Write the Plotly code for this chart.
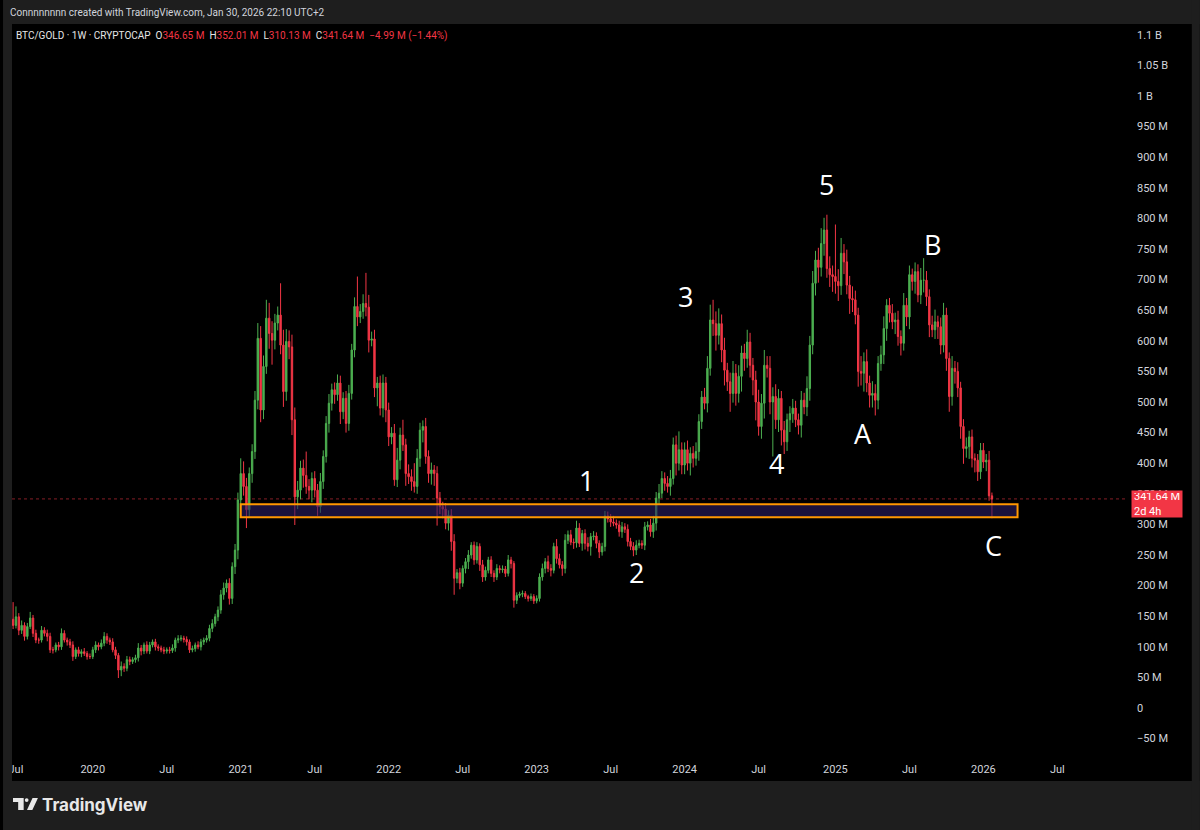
import pandas as pd
import plotly.graph_objects as go

# ---------------- data (weekly candles, values in millions) ----------------
start_week = "2019-06-10"
first_open = 152

close_2019 = [150, 145, 135, 149, 127, 135, 117, 133, 147, 122, 111, 111, 127, 122, 117, 95, 95, 103, 100, 122,
              111, 108, 103, 84, 95, 89, 92, 89, 84, 84]
close_2020 = [95, 103, 100, 106, 117, 111, 108, 95, 86, 62, 68, 65, 79, 76, 79, 82, 98, 93, 103, 93,
              103, 108, 100, 98, 95, 93, 95, 94, 98, 111, 113, 114, 112, 108, 95, 97, 103, 100, 108, 111,
              114, 130, 138, 149, 160, 185, 196, 204, 179, 231, 258, 340]
close_2021 = [383, 362, 324, 383, 419, 503, 604, 487, 558, 637, 612, 601, 629, 642, 593, 517, 599, 590, 471, 345,
              356, 392, 380, 362, 356, 375, 356, 329, 370, 411, 465, 498, 520, 512, 531, 484, 506, 465, 514, 585,
              656, 639, 648, 661, 655, 601, 603, 523, 531, 490, 531, 487]
close_2022 = [443, 449, 373, 405, 446, 430, 383, 378, 370, 362, 408, 454, 460, 411, 383, 389, 383, 343, 329, 325,
              302, 315, 272, 212, 221, 204, 228, 239, 250, 266, 242, 264, 234, 214, 225, 242, 220, 214, 228, 226,
              227, 220, 242, 236, 176, 184, 186, 187, 182, 179, 182, 175]
close_2023 = [179, 214, 228, 239, 228, 225, 264, 244, 234, 228, 274, 283, 271, 270, 294, 269, 285, 269, 264, 280,
              281, 269, 255, 264, 314, 309, 304, 302, 299, 288, 296, 292, 272, 264, 258, 266, 269, 266, 296, 299,
              288, 302, 343, 351, 375, 367, 362, 375, 430, 400, 422, 397]
close_2024 = [422, 400, 416, 408, 419, 468, 508, 498, 555, 634, 628, 609, 628, 585, 552, 533, 514, 547, 514, 542,
              580, 571, 598, 560, 536, 500, 460, 498, 560, 555, 500, 509, 471, 506, 454, 435, 471, 481, 490, 471,
              462, 503, 492, 522, 593, 694, 732, 720, 759, 781, 718, 708, 705]
close_2025 = [697, 690, 743, 729, 691, 669, 667, 642, 550, 547, 566, 531, 511, 514, 503, 563, 577, 620, 658, 645,
              631, 634, 607, 596, 658, 639, 708, 697, 713, 675, 699, 699, 672, 626, 618, 631, 623, 593, 642, 571,
              509, 555, 550, 523, 460, 424, 427, 443, 408, 405, 386, 421]
close_2026 = [402, 405, 346.65, 341.64]

# wick lengths above the body top / below the body bottom (millions)
hi_2019 = [6, 8, 28, 17, 6, 8, 5, 6, 10, 5, 6, 4, 7, 5, 6, 6, 5, 4, 5, 8, 5, 4, 5, 6, 4, 5, 4, 6, 4, 5]
lo_2019 = [5, 6, 6, 5, 8, 6, 7, 5, 4, 6, 5, 6, 4, 5, 8, 5, 6, 4, 6, 5, 4, 6, 5, 7, 4, 5, 6, 4, 5, 4]
hi_2020 = [5, 6, 4, 6, 7, 5, 4, 6, 5, 4, 8, 5, 6, 5, 4, 5, 8, 5, 4, 6, 5, 4, 5, 4, 4, 5, 4, 5, 6, 4,
           6, 5, 4, 5, 4, 5, 4, 6, 5, 4, 5, 6, 7, 5, 6, 8, 9, 6, 8, 7, 10, 12]
lo_2020 = [4, 5, 6, 4, 5, 6, 5, 4, 6, 13, 10, 6, 5, 6, 4, 5, 6, 7, 5, 4, 5, 4, 6, 5, 4, 5, 4, 5, 4, 6,
           5, 4, 5, 6, 5, 4, 5, 4, 6, 5, 4, 5, 6, 5, 7, 6, 8, 7, 10, 9, 12, 15]
hi_2021 = [25, 20, 14, 10, 12, 15, 25, 20, 18, 30, 25, 20, 15, 14, 52, 25, 20, 18, 20, 20, 15, 12, 14, 39, 12,
           10, 12, 10, 14, 10, 12, 15, 10, 12, 14, 12, 10, 12, 14, 10, 15, 49, 12, 15, 50, 20, 12, 15, 10, 12, 14, 10]
lo_2021 = [10, 15, 30, 12, 15, 12, 15, 20, 15, 12, 25, 40, 15, 12, 15, 25, 15, 20, 25, 46, 20, 15, 20, 12, 15,
           20, 12, 15, 10, 12, 10, 15, 12, 15, 10, 20, 12, 15, 12, 10, 12, 15, 10, 12, 15, 20, 10, 15, 30, 12, 15, 20]
hi_2022 = [12, 10, 15, 20, 12, 25, 10, 15, 12, 30, 15, 12, 10, 14, 10, 12, 8, 12, 10, 8, 10, 8, 10, 12, 6,
           8, 5, 6, 8, 5, 6, 7, 5, 8, 6, 5, 6, 5, 7, 5, 6, 5, 8, 5, 4, 5, 4, 5, 4, 3, 5, 4]
lo_2022 = [15, 12, 10, 12, 15, 10, 20, 12, 15, 10, 12, 14, 20, 12, 15, 18, 20, 45, 12, 15, 10, 12, 15, 27, 8,
           10, 6, 8, 12, 6, 8, 6, 10, 8, 6, 5, 6, 8, 5, 6, 5, 6, 5, 8, 12, 6, 4, 5, 4, 5, 4, 5]
hi_2023 = [5, 6, 8, 6, 10, 7, 6, 12, 8, 6, 10, 7, 8, 6, 12, 8, 6, 7, 10, 6, 8, 6, 5, 6, 8,
           7, 8, 10, 6, 7, 8, 6, 8, 6, 7, 8, 6, 5, 8, 6, 10, 12, 10, 15, 12, 10, 12, 14, 12, 15, 30, 12]
lo_2023 = [4, 5, 6, 8, 6, 10, 5, 8, 6, 12, 8, 6, 5, 10, 8, 6, 12, 10, 8, 15, 6, 8, 10, 6, 8,
           6, 8, 5, 6, 8, 10, 6, 8, 6, 10, 8, 5, 6, 8, 6, 8, 10, 12, 10, 8, 12, 10, 15, 10, 20, 12, 15]
hi_2024 = [12, 15, 10, 12, 15, 12, 10, 15, 20, 25, 33, 20, 25, 15, 20, 12, 15, 20, 15, 18, 12, 15, 20, 15, 12,
           15, 20, 15, 25, 15, 20, 15, 20, 15, 12, 15, 10, 12, 15, 12, 10, 15, 12, 20, 15, 20, 15, 20, 25, 20,
           25, 20, 15]
lo_2024 = [15, 12, 20, 15, 12, 15, 12, 10, 15, 12, 20, 25, 15, 20, 25, 15, 30, 15, 20, 15, 25, 20, 15, 20, 25,
           30, 15, 20, 25, 15, 20, 89, 15, 20, 25, 20, 15, 20, 15, 12, 15, 20, 12, 15, 20, 15, 20, 25, 15, 20,
           15, 20, 25]
hi_2025 = [85, 20, 25, 15, 20, 15, 20, 15, 12, 25, 15, 20, 12, 20, 15, 12, 15, 20, 10, 12, 15, 12, 15, 10, 20,
           12, 15, 10, 15, 12, 20, 36, 15, 12, 15, 20, 10, 15, 20, 12, 10, 20, 12, 15, 10, 12, 15, 10, 12, 8, 10, 12]
lo_2025 = [20, 25, 15, 20, 15, 25, 20, 15, 25, 20, 30, 15, 20, 20, 25, 15, 12, 15, 20, 15, 12, 20, 15, 20, 12,
           15, 20, 15, 20, 12, 15, 20, 15, 20, 12, 15, 20, 15, 12, 20, 25, 15, 20, 15, 20, 25, 15, 20, 15, 20, 15, 12]
hi_2026 = [12, 10, 15, 5.37]
lo_2026 = [10, 15, 8, 31.51]

# support zone and wave labels
zone_start, zone_end = "2021-01-04", "2026-03-30"
zone_low, zone_high = 311.5, 333.0
last_price = 341.64

wave_text = ["1", "2", "3", "4", "5", "A", "B", "C"]
wave_dates = ["2023-05-04", "2023-09-04", "2024-01-02", "2024-08-15",
              "2024-12-16", "2025-03-14", "2025-09-02", "2026-01-29"]
wave_values = [371, 221, 672, 399, 856, 449, 758, 265]

y_tick_vals = [-50, 0, 50, 100, 150, 200, 250, 300, 350, 400, 450, 500, 550, 600,
               650, 700, 750, 800, 850, 900, 950, 1000, 1050, 1100]
y_tick_text = ["\u221250 M", "0", "50 M", "100 M", "150 M", "200 M", "250 M", "300 M", "350 M", "400 M",
               "450 M", "500 M", "550 M", "600 M", "650 M", "700 M", "750 M", "800 M", "850 M", "900 M",
               "950 M", "1 B", "1.05 B", "1.1 B"]
x_tick_dates = ["2019-07-01", "2020-01-06", "2020-07-06", "2021-01-04", "2021-07-05", "2022-01-03",
                "2022-07-04", "2023-01-02", "2023-07-03", "2024-01-01", "2024-07-01", "2025-01-06",
                "2025-07-07", "2026-01-05", "2026-07-06"]
x_tick_text = ["Jul", "2020", "Jul", "2021", "Jul", "2022", "Jul", "2023", "Jul", "2024", "Jul", "2025",
               "Jul", "2026", "Jul"]

# ---------------- build OHLC ----------------
closes = close_2019 + close_2020 + close_2021 + close_2022 + close_2023 + close_2024 + close_2025 + close_2026
hi_w = hi_2019 + hi_2020 + hi_2021 + hi_2022 + hi_2023 + hi_2024 + hi_2025 + hi_2026
lo_w = lo_2019 + lo_2020 + lo_2021 + lo_2022 + lo_2023 + lo_2024 + lo_2025 + lo_2026
n = min(len(closes), len(hi_w), len(lo_w))
closes, hi_w, lo_w = closes[:n], hi_w[:n], lo_w[:n]
opens = [first_open] + closes[:-1]
highs = [max(o, c) + w for o, c, w in zip(opens, closes, hi_w)]
lows = [min(o, c) - w for o, c, w in zip(opens, closes, lo_w)]
dates = pd.date_range(start_week, periods=n, freq="7D")

# ---------------- geometry ----------------
W, H = 1200, 830
PL, PR, PT, PB = 9, 1128, 24, 757


def px(x):
    return (x - PL) / (PR - PL)


def py(y):
    return (PB - y) / (PB - PT)


t0, t1 = pd.Timestamp("2020-01-06"), pd.Timestamp("2026-01-05")
per_px = (t1 - t0) / (983 - 90)
x_range = [t0 + (PL - 90) * per_px, t0 + (PR - 90) * per_px]
y_range = [(708 - PB) / 0.612, (708 - PT) / 0.612]

UP, DOWN = "#4caf50", "#f23645"
TXT = "#d1d4dc"
FRAME = "#1e1e1e"
FONT = "Roboto, Liberation Sans, sans-serif"

fig = go.Figure(go.Candlestick(
    x=dates, open=opens, high=highs, low=lows, close=closes,
    increasing=dict(line=dict(color=UP, width=1), fillcolor=UP),
    decreasing=dict(line=dict(color=DOWN, width=1), fillcolor=DOWN),
    whiskerwidth=0, hoverinfo="skip"))

shapes = [
    # last price line
    dict(type="line", xref="paper", yref="y", x0=0, x1=1, y0=last_price, y1=last_price,
         line=dict(color="rgba(242,54,69,0.55)", width=1, dash="dot"), layer="below"),
    # support zone
    dict(type="rect", xref="x", yref="y", x0=zone_start, x1=zone_end, y0=zone_low, y1=zone_high,
         fillcolor="rgba(44,30,100,0.6)", line=dict(color="#ff9800", width=2), layer="above"),
    # frame: top bar, footer, left and right strips
    dict(type="rect", xref="paper", yref="paper", x0=px(0), x1=px(W), y0=py(PT), y1=py(0),
         fillcolor=FRAME, line=dict(width=0), layer="above"),
    dict(type="rect", xref="paper", yref="paper", x0=px(0), x1=px(W), y0=py(H), y1=py(781),
         fillcolor=FRAME, line=dict(width=0), layer="above"),
    dict(type="rect", xref="paper", yref="paper", x0=px(0), x1=px(PL), y0=py(H), y1=py(0),
         fillcolor=FRAME, line=dict(width=0), layer="above"),
    dict(type="rect", xref="paper", yref="paper", x0=px(1192), x1=px(W), y0=py(H), y1=py(0),
         fillcolor=FRAME, line=dict(width=0), layer="above"),
    # TradingView logo pieces
    dict(type="path", xref="paper", yref="paper",
         path=f"M {px(10)},{py(798)} L {px(20.7)},{py(798)} L {px(20.7)},{py(810)} L {px(15.2)},{py(810)} "
              f"L {px(15.2)},{py(802)} L {px(10)},{py(802)} Z",
         fillcolor="#e8e8e8", line=dict(width=0), layer="above"),
    dict(type="circle", xref="paper", yref="paper", x0=px(21.8), x1=px(25.6), y0=py(802), y1=py(798.2),
         fillcolor="#e8e8e8", line=dict(width=0), layer="above"),
    dict(type="path", xref="paper", yref="paper",
         path=f"M {px(24)},{py(810)} L {px(29.4)},{py(810)} L {px(35)},{py(798)} L {px(29.6)},{py(798)} Z",
         fillcolor="#e8e8e8", line=dict(width=0), layer="above"),
]

annotations = []
for t, d, v in zip(wave_text, wave_dates, wave_values):
    annotations.append(dict(x=d, y=v, xref="x", yref="y", text=t, showarrow=False,
                            font=dict(family="Open Sans, sans-serif", size=27, color="#ffffff")))

red = DOWN
header = ("BTC/GOLD \u00b7 1W \u00b7 CRYPTOCAP&nbsp;&nbsp;"
          f"O<span style='color:{red}'>346.65 M</span>&nbsp;&nbsp;"
          f"H<span style='color:{red}'>352.01 M</span>&nbsp;&nbsp;"
          f"L<span style='color:{red}'>310.13 M</span>&nbsp;&nbsp;"
          f"C<span style='color:{red}'>341.64 M</span>&nbsp;&nbsp;"
          f"<span style='color:{red}'>\u22124.99 M (\u22121.44%)</span>")
annotations += [
    dict(x=px(11), y=py(36), xref="paper", yref="paper", xanchor="left", yanchor="middle",
         text=header, showarrow=False, font=dict(family=FONT, size=10, color="#e6e6e6")),
    dict(x=px(5), y=py(12), xref="paper", yref="paper", xanchor="left", yanchor="middle",
         text="Connnnnnnn created with TradingView.com, Jan 30, 2026 22:10 UTC+2", showarrow=False,
         font=dict(family=FONT, size=10, color=TXT)),
    dict(x=px(37), y=py(805), xref="paper", yref="paper", xanchor="left", yanchor="middle",
         text="<b>TradingView</b>", showarrow=False,
         font=dict(family="Inter, Roboto, sans-serif", size=17, color="#e8e8e8")),
    dict(x=px(1131), y=py(504), xref="paper", yref="paper", xanchor="left", yanchor="middle",
         text="341.64 M<br>2d 4h", showarrow=False, align="left", bgcolor=red, borderpad=2,
         width=46, height=22, font=dict(family=FONT, size=11, color="#ffffff")),
]

fig.update_layout(
    width=W, height=H,
    margin=dict(l=PL, r=W - PR, t=PT, b=H - PB, pad=0),
    paper_bgcolor="#000000", plot_bgcolor="#000000",
    showlegend=False,
    shapes=shapes, annotations=annotations,
    font=dict(family=FONT, color=TXT, size=11),
    xaxis=dict(type="date", range=x_range, rangeslider=dict(visible=False), showgrid=False,
               zeroline=False, showline=False, tickvals=x_tick_dates, ticktext=x_tick_text,
               ticks="", tickfont=dict(family=FONT, size=11, color=TXT), ticklabelstandoff=4,
               fixedrange=True),
    yaxis=dict(range=y_range, side="right", showgrid=False, zeroline=False, showline=False,
               tickvals=y_tick_vals, ticktext=y_tick_text, ticks="",
               tickfont=dict(family=FONT, size=11, color=TXT), ticklabelstandoff=8,
               fixedrange=True),
)

fig.write_html("out.html", config={"displayModeBar": False},
               post_script="document.body.style.margin='0px';")
